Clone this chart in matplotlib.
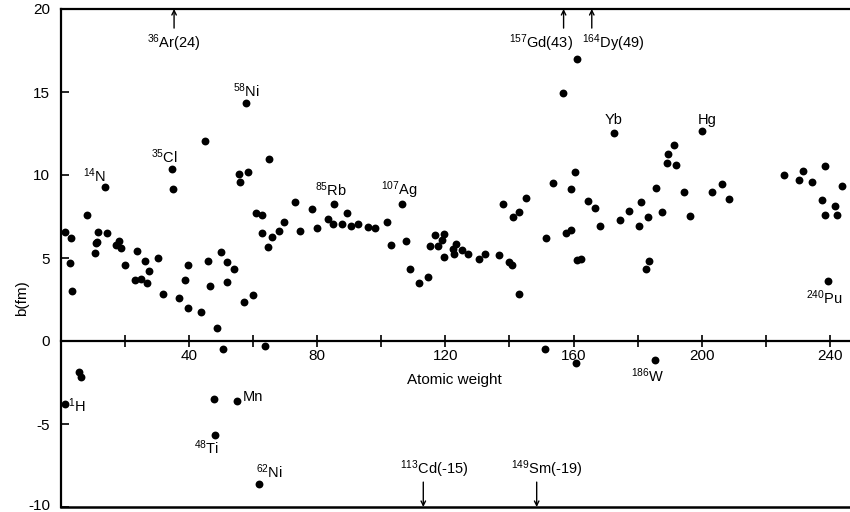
import matplotlib
matplotlib.use("Agg")
import matplotlib.pyplot as plt
import matplotlib.transforms as mtransforms
from matplotlib.ticker import MultipleLocator

plt.rcParams['font.family'] = ['Liberation Sans', 'DejaVu Sans']
plt.rcParams['mathtext.default'] = 'regular'
plt.rcParams['axes.unicode_minus'] = False

# Atomic weight and scattering length b (fm) of each plotted nucleus
atomic_weight = [
    1.25, 3.0, 2.7, 3.5, 8.2, 10.6, 11.0, 11.3, 11.7, 13.75, 14.5, 17.1, 18.1, 18.8,
    19.9, 23.1, 23.6, 24.9, 26.1, 27.0, 27.5, 30.4, 31.9, 34.6, 35.1, 36.7, 38.75,
    39.8, 39.8, 43.7, 44.9, 46.0, 46.6, 48.8, 49.9, 50.6, 51.7, 51.7, 54.1, 55.6,
    56.0, 57.2, 57.9, 58.5, 59.8, 60.8, 62.7, 62.9, 63.7, 64.5, 64.8, 66.0, 67.9,
    69.7, 73.0, 74.5, 78.5, 79.8,
    1.2, 5.6, 6.3, 47.8, 54.8, 48.0, 61.9,
    83.5, 84.8, 85.3, 87.6, 89.3, 90.5, 92.8, 95.7, 98.0, 101.7, 103.0, 106.5,
    107.7, 108.8, 111.9, 114.7, 115.2, 116.9, 117.6, 119.0, 119.7, 119.7, 122.3,
    122.8, 123.3, 125.2, 127.0, 130.6, 132.5, 136.6, 138.1, 139.8, 140.8, 141.0,
    142.9, 143.1, 145.2, 151.1, 151.5, 153.5, 156.7, 157.7, 159.3, 159.3, 160.6,
    160.8, 161.0, 161.2, 162.4, 164.5, 166.6, 168.4, 172.5, 174.4, 177.4, 180.4,
    181.2, 182.5, 183.2, 183.5, 185.3, 185.8, 187.6, 189.2, 189.5, 191.3, 192.1,
    194.4, 196.5, 200.2, 203.2, 206.2, 208.4, 225.6, 230.3, 231.7, 234.6, 237.7,
    238.4, 238.4, 239.5, 241.6, 242.3, 243.7,
]
b_fm = [
    6.58, 6.19, 4.68, 3.0, 7.59, 5.32, 5.9, 5.98, 6.55, 9.26, 6.53, 5.78, 6.04, 5.58,
    4.58, 3.67, 5.44, 3.72, 4.84, 3.47, 4.23, 5.0, 2.81, 10.34, 9.18, 2.61, 3.67,
    4.58, 2.01, 1.77, 12.05, 4.84, 3.31, 0.8, 5.38, -0.48, 4.78, 3.54, 4.32, 10.06,
    9.56, 2.37, 14.32, 10.16, 2.77, 7.69, 6.53, 7.59, -0.28, 5.64, 10.96, 6.28, 6.64,
    7.19, 8.35, 6.64, 7.93, 6.78,
    -3.8, -1.85, -2.15, -3.51, -3.61, -5.66, -8.63,
    7.33, 7.05, 8.25, 7.05, 7.69, 6.93, 7.05, 6.89, 6.79, 7.14, 5.78, 8.25,
    6.02, 4.32, 3.47, 3.87, 5.74, 6.39, 5.74, 6.08, 6.43, 5.08, 5.54,
    5.22, 5.83, 5.48, 5.22, 4.94, 5.22, 5.18, 8.25, 4.78, 4.58, 7.49,
    7.79, 2.81, 8.6, -0.48, 6.19, 9.54, 14.92, 6.49, 6.69, 9.13, 10.16,
    -1.31, 4.9, 16.97, 4.92, 8.43, 7.99, 6.95, 12.55, 7.29, 7.84, 6.93,
    8.35, 4.34, 7.49, 4.84, -1.14, 9.2, 7.79, 10.74, 11.27, 11.81, 10.6,
    9.0, 7.53, 12.65, 9.0, 9.46, 8.55, 10.0, 9.7, 10.26, 9.6, 8.49,
    10.54, 7.59, 3.63, 8.13, 7.59, 9.34,
]

# Point labels: text, x, y (data)
label_text = [r'$^{14}$N', r'$^{35}$Cl', r'$^{58}$Ni', r'$^{85}$Rb', r'$^{107}$Ag',
              'Yb', 'Hg', r'$^{240}$Pu', r'$^{1}$H', r'$^{48}$Ti', 'Mn',
              r'$^{62}$Ni', r'$^{186}$W']
label_x = [7.0, 28.0, 53.8, 79.4, 100.0, 169.7, 198.8, 232.5, 2.2, 41.6, 56.6, 61.0, 178.0]
label_y = [9.95, 11.1, 15.1, 9.1, 9.1, 13.3, 13.3, 2.6, -3.9, -6.45, -3.4, -7.9, -2.1]

# Off-scale values marked by arrows: text, x, direction
off_text = [r'$^{36}$Ar(24)', r'$^{157}$Gd(43)', r'$^{164}$Dy(49)',
            r'$^{113}$Cd(-15)', r'$^{149}$Sm(-19)']
off_x = [35.3, 156.9, 165.7, 113.1, 148.5]
off_label_x = [35.3, 150.0, 172.5, 116.5, 151.5]
off_up = [True, True, True, False, False]

x_major = [40, 80, 120, 160, 200, 240]
y_major = [-10, -5, 0, 5, 10, 15, 20]

fig = plt.figure(figsize=(8.5, 5.12), dpi=100)
ax = fig.add_axes([61 / 850, 1 - 507 / 512, (849 - 61) / 850, (507 - 9) / 512])
ax.set_xlim(0, 246)
ax.set_ylim(-10, 20)

ax.scatter(atomic_weight, b_fm, s=32, color='black', zorder=3, linewidths=0)

for t, x, y in zip(label_text, label_x, label_y):
    ax.text(x, y, t, fontsize=10.5, ha='left', va='center')

for t, x, lx, up in zip(off_text, off_x, off_label_x, off_up):
    if up:
        ax.annotate('', xy=(x, 20), xytext=(x, 18.85),
                    arrowprops=dict(arrowstyle='->', lw=1.0, color='black',
                                    mutation_scale=8, shrinkA=0, shrinkB=0),
                    annotation_clip=False)
        ax.text(lx, 17.95, t, fontsize=10.5, ha='center', va='center')
    else:
        ax.annotate('', xy=(x, -10), xytext=(x, -8.5),
                    arrowprops=dict(arrowstyle='->', lw=1.0, color='black',
                                    mutation_scale=8, shrinkA=0, shrinkB=0),
                    annotation_clip=False)
        ax.text(lx, -7.75, t, fontsize=10.5, ha='center', va='center')

# axes frame
for sp in ['left', 'top', 'bottom']:
    ax.spines[sp].set_linewidth(1.6)
ax.spines['right'].set_visible(False)
ax.spines['bottom'].set_position(('data', 0))
ax.axhline(-10, color='black', lw=1.8, clip_on=False, zorder=4)

ax.set_xticks(x_major)
ax.set_xticklabels([str(v) for v in x_major])
ax.xaxis.set_minor_locator(MultipleLocator(20))
ax.set_yticks(y_major)
ax.set_yticklabels([str(v) for v in y_major])
ax.tick_params(axis='x', which='both', direction='inout', length=8, width=1.2,
               labelsize=11, pad=2)
ax.tick_params(axis='y', which='both', direction='in', length=6, width=1.2,
               labelsize=11, pad=8)
ax.tick_params(top=False, right=False)

# keep the bottom "-10" label inside the canvas
lbl = ax.get_yticklabels()[0]
lbl.set_transform(lbl.get_transform() +
                  mtransforms.ScaledTranslation(0, 3 / 100, fig.dpi_scale_trans))

ax.set_ylabel('b(fm)', fontsize=11)
ax.yaxis.set_label_coords(-0.04, 0.42)
ax.text(122.8, -2.35, 'Atomic weight', fontsize=11, ha='center', va='center')

fig.savefig('out.png', dpi=100)
